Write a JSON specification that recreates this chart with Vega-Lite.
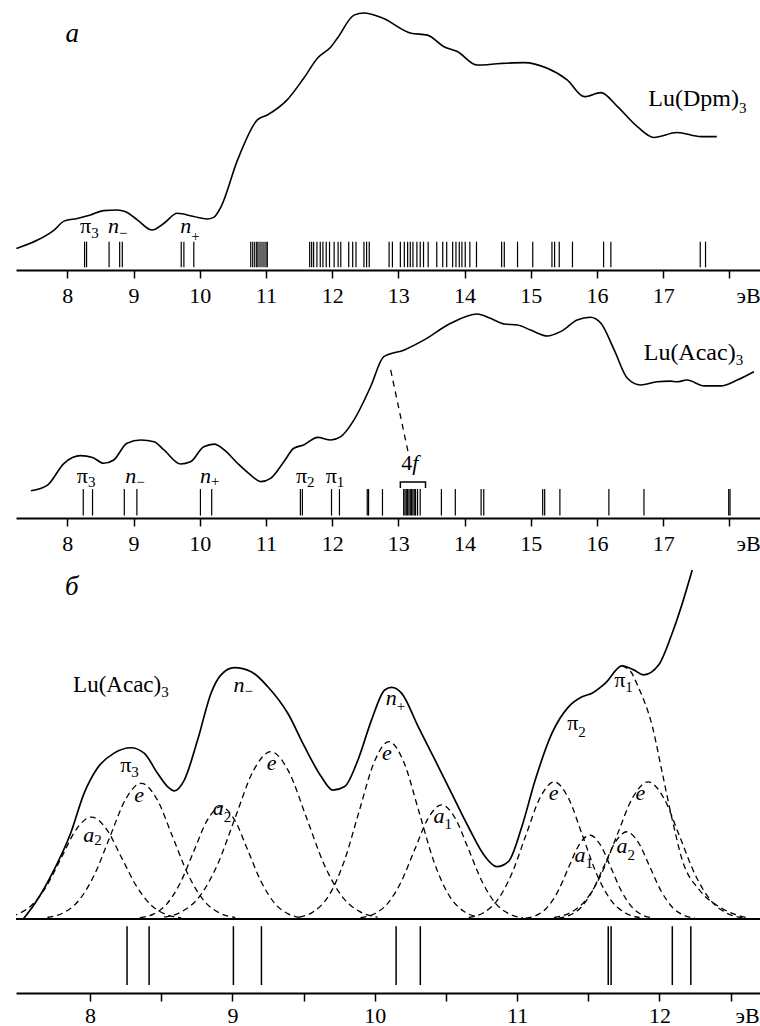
{
"$schema": "https://vega.github.io/schema/vega-lite/v6.json",
"background": "white",
"padding": {"left": 12, "top": 0, "right": 0, "bottom": 0},
"bounds": "flush",
"spacing": 36,
"datasets": {
"a_curve": [{"x":7.23,"y":8.0},{"x":7.55,"y":11.1},{"x":7.8,"y":14.8},{"x":7.95,"y":18.1},{"x":8.15,"y":19.1},{"x":8.35,"y":20.4},{"x":8.55,"y":22.0},{"x":8.75,"y":22.2},{"x":8.88,"y":21.6},{"x":9.06,"y":18.5},{"x":9.28,"y":14.8},{"x":9.46,"y":17.3},{"x":9.66,"y":21.0},{"x":9.91,"y":19.8},{"x":10.11,"y":18.9},{"x":10.21,"y":19.5},{"x":10.32,"y":23.4},{"x":10.57,"y":40.7},{"x":10.87,"y":55.6},{"x":11.02,"y":57.4},{"x":11.32,"y":63.0},{"x":11.57,"y":71.0},{"x":11.78,"y":78.5},{"x":11.98,"y":82.6},{"x":12.08,"y":85.9},{"x":12.33,"y":94.4},{"x":12.48,"y":95.2},{"x":12.76,"y":93.3},{"x":13.19,"y":87.7},{"x":13.44,"y":87.0},{"x":13.69,"y":82.7},{"x":13.89,"y":80.9},{"x":14.19,"y":75.9},{"x":14.55,"y":76.5},{"x":14.9,"y":76.8},{"x":15.25,"y":74.7},{"x":15.55,"y":70.4},{"x":15.81,"y":64.2},{"x":16.06,"y":65.7},{"x":16.31,"y":60.5},{"x":16.61,"y":53.1},{"x":16.86,"y":49.1},{"x":17.21,"y":50.9},{"x":17.57,"y":49.4},{"x":17.81,"y":49.4}],
"a_sticks": [{"x":8.26},{"x":8.29},{"x":8.63},{"x":8.79},{"x":8.83},{"x":9.72},{"x":9.76},{"x":9.91},{"x":10.77},{"x":10.8},{"x":10.83},{"x":10.86},{"x":10.88},{"x":10.91},{"x":10.94},{"x":10.97},{"x":11.0},{"x":11.02},{"x":11.66},{"x":11.69},{"x":11.72},{"x":11.77},{"x":11.82},{"x":11.86},{"x":11.91},{"x":11.96},{"x":12.03},{"x":12.09},{"x":12.13},{"x":12.25},{"x":12.31},{"x":12.36},{"x":12.48},{"x":12.52},{"x":12.56},{"x":12.86},{"x":12.91},{"x":13.03},{"x":13.09},{"x":13.14},{"x":13.18},{"x":13.22},{"x":13.28},{"x":13.33},{"x":13.38},{"x":13.45},{"x":13.58},{"x":13.67},{"x":13.73},{"x":13.82},{"x":13.87},{"x":13.92},{"x":13.96},{"x":14.01},{"x":14.08},{"x":14.18},{"x":14.56},{"x":14.6},{"x":14.8},{"x":15.03},{"x":15.32},{"x":15.36},{"x":15.43},{"x":15.63},{"x":16.1},{"x":16.21},{"x":17.56},{"x":17.64}],
"a_up": [{"x":8.36,"y":13.7,"t":"π"}],
"a_lu": [{"x":18.145,"y":60.7,"t":"Lu(Dpm)"}],
"a_it": [{"x":8.78,"y":13.7,"t":"n"},{"x":9.87,"y":13.7,"t":"n"}],
"a_sub": [{"x":8.36,"y":12.0,"t":"3"},{"x":8.78,"y":12.0,"t":"−"},{"x":9.87,"y":10.7,"t":"+"},{"x":18.145,"y":58.1,"t":"3"}],
"a_title": [{"x":8.175,"y":84.4,"t":"a"}],
"b_curve": [{"x":7.45,"y":12.5},{"x":7.7,"y":15.1},{"x":7.95,"y":25.1},{"x":8.2,"y":28.6},{"x":8.38,"y":27.8},{"x":8.55,"y":25.1},{"x":8.7,"y":26.6},{"x":8.9,"y":34.3},{"x":9.11,"y":35.8},{"x":9.31,"y":35.0},{"x":9.46,"y":31.2},{"x":9.71,"y":24.8},{"x":9.86,"y":25.8},{"x":10.06,"y":32.7},{"x":10.22,"y":33.9},{"x":10.37,"y":31.2},{"x":10.57,"y":25.1},{"x":10.77,"y":19.7},{"x":10.92,"y":16.7},{"x":11.07,"y":18.2},{"x":11.27,"y":25.8},{"x":11.42,"y":32.0},{"x":11.57,"y":33.5},{"x":11.78,"y":37.0},{"x":11.98,"y":35.8},{"x":12.13,"y":37.3},{"x":12.33,"y":45.0},{"x":12.58,"y":60.2},{"x":12.78,"y":74.0},{"x":13.09,"y":77.1},{"x":13.39,"y":81.7},{"x":13.79,"y":89.3},{"x":14.19,"y":93.6},{"x":14.39,"y":91.6},{"x":14.6,"y":89.0},{"x":14.8,"y":88.5},{"x":15.0,"y":86.2},{"x":15.25,"y":83.5},{"x":15.45,"y":85.5},{"x":15.7,"y":90.8},{"x":15.9,"y":92.1},{"x":16.06,"y":89.3},{"x":16.26,"y":77.1},{"x":16.46,"y":64.1},{"x":16.66,"y":61.0},{"x":16.91,"y":62.5},{"x":17.11,"y":62.8},{"x":17.21,"y":62.5},{"x":17.36,"y":63.3},{"x":17.62,"y":60.6},{"x":17.87,"y":60.6},{"x":18.12,"y":63.3},{"x":18.37,"y":67.1}],
"b_sticks": [{"x":8.24},{"x":8.38},{"x":8.86},{"x":9.05},{"x":10.01},{"x":10.18},{"x":11.52},{"x":11.55},{"x":11.99},{"x":12.11},{"x":12.53},{"x":12.55},{"x":12.76},{"x":13.08},{"x":13.1},{"x":13.12},{"x":13.14},{"x":13.16},{"x":13.18},{"x":13.2},{"x":13.22},{"x":13.24},{"x":13.26},{"x":13.29},{"x":13.33},{"x":13.65},{"x":13.86},{"x":14.25},{"x":14.29},{"x":15.18},{"x":15.21},{"x":15.44},{"x":16.18},{"x":16.71},{"x":17.99},{"x":18.01}],
"b_up": [{"x":8.31,"y":16.1,"t":"π"},{"x":11.62,"y":16.1,"t":"π"},{"x":12.07,"y":16.1,"t":"π"},{"x":13.21,"y":22.0,"t":"4"}],
"b_lu": [{"x":18.095,"y":72.5,"t":"Lu(Acac)"}],
"b_it": [{"x":9.04,"y":16.1,"t":"n"},{"x":10.17,"y":16.1,"t":"n"}],
"b_f": [{"x":13.21,"y":22.0,"t":"f"}],
"b_sub": [{"x":8.31,"y":14.2,"t":"3"},{"x":9.04,"y":14.0,"t":"−"},{"x":10.17,"y":14.9,"t":"+"},{"x":11.62,"y":14.2,"t":"2"},{"x":12.07,"y":14.2,"t":"1"},{"x":18.095,"y":70.2,"t":"3"}],
"b_dash": [{"x":12.884,"y":67.9,"x2":13.16,"y2":28.4}],
"b_bracket": [{"x":13.03,"y":13.8,"o":1},{"x":13.03,"y":16.5,"o":2},{"x":13.41,"y":16.5,"o":3},{"x":13.41,"y":13.8,"o":4}],
"c_base": [{"x":7.48},{"x":12.72}],
"c_curve": [{"x":7.535,"y":0.2},{"x":7.629,"y":5.3},{"x":7.746,"y":13.6},{"x":7.864,"y":23.9},{"x":7.958,"y":35.0},{"x":8.051,"y":42.0},{"x":8.169,"y":46.2},{"x":8.287,"y":47.7},{"x":8.38,"y":46.2},{"x":8.474,"y":40.6},{"x":8.544,"y":36.9},{"x":8.592,"y":35.7},{"x":8.662,"y":38.7},{"x":8.756,"y":49.9},{"x":8.85,"y":62.9},{"x":8.92,"y":68.0},{"x":9.014,"y":70.0},{"x":9.132,"y":68.9},{"x":9.249,"y":64.7},{"x":9.389,"y":57.3},{"x":9.507,"y":48.0},{"x":9.625,"y":39.6},{"x":9.706,"y":35.9},{"x":9.789,"y":36.9},{"x":9.882,"y":44.3},{"x":9.977,"y":55.4},{"x":10.07,"y":63.8},{"x":10.118,"y":64.5},{"x":10.188,"y":62.9},{"x":10.305,"y":53.6},{"x":10.423,"y":44.3},{"x":10.54,"y":35.0},{"x":10.657,"y":25.7},{"x":10.775,"y":17.4},{"x":10.857,"y":14.6},{"x":10.939,"y":16.0},{"x":11.033,"y":25.7},{"x":11.127,"y":38.7},{"x":11.244,"y":51.7},{"x":11.361,"y":59.1},{"x":11.456,"y":61.9},{"x":11.526,"y":62.9},{"x":11.62,"y":65.7},{"x":11.737,"y":70.5},{"x":11.819,"y":69.4},{"x":11.889,"y":68.0},{"x":11.995,"y":70.8},{"x":12.089,"y":79.6},{"x":12.16,"y":87.9},{"x":12.23,"y":97.2}],
"c_sum": [{"x":11.737,"y":70.5},{"x":11.8,"y":68.8},{"x":11.85,"y":64.7},{"x":11.95,"y":53.6},{"x":12.02,"y":40.6},{"x":12.09,"y":27.6},{"x":12.16,"y":16.4},{"x":12.28,"y":8.1},{"x":12.42,"y":3.4},{"x":12.62,"y":0.3}],
"c_comp": [
{"c":1,"x":7.38,"y":0.32},{"c":1,"x":7.485,"y":1.25},{"c":1,"x":7.59,"y":3.84},{"c":1,"x":7.695,"y":9.22},{"c":1,"x":7.8,"y":17.22},{"c":1,"x":7.905,"y":25.06},{"c":1,"x":8.01,"y":28.4},{"c":1,"x":8.115,"y":25.06},{"c":1,"x":8.22,"y":17.22},{"c":1,"x":8.325,"y":9.22},{"c":1,"x":8.43,"y":3.84},{"c":1,"x":8.535,"y":1.25},{"c":1,"x":8.64,"y":0.32},
{"c":2,"x":7.7,"y":0.42},{"c":2,"x":7.81,"y":1.66},{"c":2,"x":7.92,"y":5.11},{"c":2,"x":8.03,"y":12.27},{"c":2,"x":8.14,"y":22.93},{"c":2,"x":8.25,"y":33.36},{"c":2,"x":8.36,"y":37.8},{"c":2,"x":8.47,"y":33.36},{"c":2,"x":8.58,"y":22.93},{"c":2,"x":8.69,"y":12.27},{"c":2,"x":8.8,"y":5.11},{"c":2,"x":8.91,"y":1.66},{"c":2,"x":9.02,"y":0.42},
{"c":3,"x":8.35,"y":0.35},{"c":3,"x":8.445,"y":1.37},{"c":3,"x":8.54,"y":4.23},{"c":3,"x":8.635,"y":10.16},{"c":3,"x":8.73,"y":18.98},{"c":3,"x":8.825,"y":27.62},{"c":3,"x":8.92,"y":31.3},{"c":3,"x":9.015,"y":27.62},{"c":3,"x":9.11,"y":18.98},{"c":3,"x":9.205,"y":10.16},{"c":3,"x":9.3,"y":4.23},{"c":3,"x":9.395,"y":1.37},{"c":3,"x":9.49,"y":0.35},
{"c":4,"x":8.52,"y":0.52},{"c":4,"x":8.645,"y":2.05},{"c":4,"x":8.77,"y":6.31},{"c":4,"x":8.895,"y":15.13},{"c":4,"x":9.02,"y":28.26},{"c":4,"x":9.145,"y":41.12},{"c":4,"x":9.27,"y":46.6},{"c":4,"x":9.395,"y":41.12},{"c":4,"x":9.52,"y":28.26},{"c":4,"x":9.645,"y":15.13},{"c":4,"x":9.77,"y":6.31},{"c":4,"x":9.895,"y":2.05},{"c":4,"x":10.02,"y":0.52},
{"c":5,"x":9.47,"y":0.55},{"c":5,"x":9.575,"y":2.17},{"c":5,"x":9.68,"y":6.68},{"c":5,"x":9.785,"y":16.04},{"c":5,"x":9.89,"y":29.96},{"c":5,"x":9.995,"y":43.6},{"c":5,"x":10.1,"y":49.4},{"c":5,"x":10.205,"y":43.6},{"c":5,"x":10.31,"y":29.96},{"c":5,"x":10.415,"y":16.04},{"c":5,"x":10.52,"y":6.68},{"c":5,"x":10.625,"y":2.17},{"c":5,"x":10.73,"y":0.55},
{"c":6,"x":9.9,"y":0.35},{"c":6,"x":9.995,"y":1.4},{"c":6,"x":10.09,"y":4.3},{"c":6,"x":10.185,"y":10.33},{"c":6,"x":10.28,"y":19.29},{"c":6,"x":10.375,"y":28.06},{"c":6,"x":10.47,"y":31.8},{"c":6,"x":10.565,"y":28.06},{"c":6,"x":10.66,"y":19.29},{"c":6,"x":10.755,"y":10.33},{"c":6,"x":10.85,"y":4.3},{"c":6,"x":10.945,"y":1.4},{"c":6,"x":11.04,"y":0.35},
{"c":7,"x":10.66,"y":0.42},{"c":7,"x":10.76,"y":1.68},{"c":7,"x":10.86,"y":5.17},{"c":7,"x":10.96,"y":12.4},{"c":7,"x":11.06,"y":23.17},{"c":7,"x":11.16,"y":33.71},{"c":7,"x":11.26,"y":38.2},{"c":7,"x":11.36,"y":33.71},{"c":7,"x":11.46,"y":23.17},{"c":7,"x":11.56,"y":12.4},{"c":7,"x":11.66,"y":5.17},{"c":7,"x":11.76,"y":1.68},{"c":7,"x":11.86,"y":0.42},
{"c":8,"x":11.06,"y":0.26},{"c":8,"x":11.135,"y":1.03},{"c":8,"x":11.21,"y":3.17},{"c":8,"x":11.285,"y":7.6},{"c":8,"x":11.36,"y":14.19},{"c":8,"x":11.435,"y":20.65},{"c":8,"x":11.51,"y":23.4},{"c":8,"x":11.585,"y":20.65},{"c":8,"x":11.66,"y":14.19},{"c":8,"x":11.735,"y":7.6},{"c":8,"x":11.81,"y":3.17},{"c":8,"x":11.885,"y":1.03},{"c":8,"x":11.96,"y":0.26},
{"c":9,"x":11.29,"y":0.27},{"c":9,"x":11.37,"y":1.07},{"c":9,"x":11.45,"y":3.29},{"c":9,"x":11.53,"y":7.89},{"c":9,"x":11.61,"y":14.74},{"c":9,"x":11.69,"y":21.44},{"c":9,"x":11.77,"y":24.3},{"c":9,"x":11.85,"y":21.44},{"c":9,"x":11.93,"y":14.74},{"c":9,"x":12.01,"y":7.89},{"c":9,"x":12.09,"y":3.29},{"c":9,"x":12.17,"y":1.07},{"c":9,"x":12.25,"y":0.27},
{"c":10,"x":11.26,"y":0.42},{"c":10,"x":11.37,"y":1.68},{"c":10,"x":11.48,"y":5.17},{"c":10,"x":11.59,"y":12.4},{"c":10,"x":11.7,"y":23.17},{"c":10,"x":11.81,"y":33.71},{"c":10,"x":11.92,"y":38.2},{"c":10,"x":12.03,"y":33.71},{"c":10,"x":12.14,"y":23.17},{"c":10,"x":12.25,"y":12.4},{"c":10,"x":12.36,"y":5.17},{"c":10,"x":12.47,"y":1.68},{"c":10,"x":12.58,"y":0.42}
],
"c_sticks": [{"x":8.26},{"x":8.415},{"x":9.007},{"x":9.204},{"x":10.15},{"x":10.32},{"x":11.64},{"x":11.66},{"x":12.09},{"x":12.22}],
"c_up": [{"x":8.29,"y":40.9,"t":"π"},{"x":11.43,"y":52.6,"t":"π"},{"x":11.76,"y":64.6,"t":"π"}],
"c_lu": [{"x":8.5,"y":63.2,"t":"Lu(Acac)"}],
"c_it": [{"x":9.085,"y":63.2,"t":"n"},{"x":8.38,"y":32.6,"t":"e"},{"x":8.03,"y":21.4,"t":"a"},{"x":9.31,"y":41.5,"t":"e"},{"x":8.94,"y":29.0,"t":"a"},{"x":10.155,"y":59.6,"t":"n"},{"x":10.12,"y":44.3,"t":"e"},{"x":10.49,"y":26.7,"t":"a"},{"x":11.29,"y":33.1,"t":"e"},{"x":11.48,"y":15.9,"t":"a"},{"x":11.775,"y":18.4,"t":"a"},{"x":11.9,"y":33.1,"t":"e"}],
"c_sub": [{"x":8.29,"y":39.6,"t":"3"},{"x":9.085,"y":62.0,"t":"−"},{"x":8.03,"y":20.6,"t":"2"},{"x":8.94,"y":27.0,"t":"2"},{"x":10.155,"y":57.8,"t":"+"},{"x":10.49,"y":25.1,"t":"1"},{"x":11.43,"y":50.7,"t":"2"},{"x":11.48,"y":14.2,"t":"1"},{"x":11.775,"y":16.4,"t":"2"},{"x":11.76,"y":63.2,"t":"1"},{"x":8.5,"y":61.8,"t":"3"}],
"c_title": [{"x":7.92,"y":90.3,"t":"б"}]
},
"vconcat": [
{
"width": 746, "height": 270,
"encoding": {"x": {"field": "x", "type": "quantitative", "scale": {"domain": [7.224, 18.493], "nice": false, "zero": false}, "axis": {"values": [8,9,10,11,12,13,14,15,16,17,18], "labelExpr": "datum.value == 18 ? '' : format(datum.value, 'd')", "title": "эВ", "titleX": 732}}},
"layer": [
{"data": {"name": "a_curve"}, "mark": {"type": "line", "strokeWidth": 1.6, "interpolate": "monotone"},
 "encoding": {"y": {"field": "y", "type": "quantitative", "scale": {"domain": [0, 100], "nice": false, "zero": false}, "axis": null}}},
{"data": {"name": "a_sticks"}, "mark": {"type": "rule", "strokeWidth": 1.2},
 "encoding": {"y": {"datum": 1.0, "scale": {"domain": [0, 100], "nice": false, "zero": false}, "axis": null}, "y2": {"datum": 10.5}}},
{"data": {"name": "a_up"}, "mark": {"type": "text", "align": "right", "fontSize": 22},
 "encoding": {"y": {"field": "y", "type": "quantitative", "scale": {"domain": [0, 100], "nice": false, "zero": false}, "axis": null}, "text": {"field": "t"}}},
{"data": {"name": "a_lu"}, "mark": {"type": "text", "align": "right", "fontSize": 24},
 "encoding": {"y": {"field": "y", "type": "quantitative", "scale": {"domain": [0, 100], "nice": false, "zero": false}, "axis": null}, "text": {"field": "t"}}},
{"data": {"name": "a_it"}, "mark": {"type": "text", "align": "right", "fontSize": 22, "fontStyle": "italic"},
 "encoding": {"y": {"field": "y", "type": "quantitative", "scale": {"domain": [0, 100], "nice": false, "zero": false}, "axis": null}, "text": {"field": "t"}}},
{"data": {"name": "a_sub"}, "mark": {"type": "text", "align": "left", "fontSize": 15},
 "encoding": {"y": {"field": "y", "type": "quantitative", "scale": {"domain": [0, 100], "nice": false, "zero": false}, "axis": null}, "text": {"field": "t"}}},
{"data": {"name": "a_title"}, "mark": {"type": "text", "align": "right", "fontSize": 27, "fontStyle": "italic"},
 "encoding": {"y": {"field": "y", "type": "quantitative", "scale": {"domain": [0, 100], "nice": false, "zero": false}, "axis": null}, "text": {"field": "t"}}}
]
},
{
"width": 746, "height": 212,
"encoding": {"x": {"field": "x", "type": "quantitative", "scale": {"domain": [7.224, 18.493], "nice": false, "zero": false}, "axis": {"values": [8,9,10,11,12,13,14,15,16,17,18], "labelExpr": "datum.value == 18 ? '' : format(datum.value, 'd')", "title": "эВ", "titleX": 732}}},
"layer": [
{"data": {"name": "b_curve"}, "mark": {"type": "line", "strokeWidth": 1.6, "interpolate": "monotone"},
 "encoding": {"y": {"field": "y", "type": "quantitative", "scale": {"domain": [0, 97.25], "nice": false, "zero": false}, "axis": null}}},
{"data": {"name": "b_sticks"}, "mark": {"type": "rule", "strokeWidth": 1.2},
 "encoding": {"y": {"datum": 1.1, "scale": {"domain": [0, 97.25], "nice": false, "zero": false}, "axis": null}, "y2": {"datum": 13.3}}},
{"data": {"name": "b_dash"}, "mark": {"type": "rule", "strokeWidth": 1.3, "strokeDash": [6, 5]},
 "encoding": {"y": {"field": "y", "type": "quantitative", "scale": {"domain": [0, 97.25], "nice": false, "zero": false}, "axis": null}, "x2": {"field": "x2"}, "y2": {"field": "y2"}}},
{"data": {"name": "b_bracket"}, "mark": {"type": "line", "strokeWidth": 1.5},
 "encoding": {"y": {"field": "y", "type": "quantitative", "scale": {"domain": [0, 97.25], "nice": false, "zero": false}, "axis": null}, "order": {"field": "o"}}},
{"data": {"name": "b_up"}, "mark": {"type": "text", "align": "right", "fontSize": 22},
 "encoding": {"y": {"field": "y", "type": "quantitative", "scale": {"domain": [0, 97.25], "nice": false, "zero": false}, "axis": null}, "text": {"field": "t"}}},
{"data": {"name": "b_lu"}, "mark": {"type": "text", "align": "right", "fontSize": 24},
 "encoding": {"y": {"field": "y", "type": "quantitative", "scale": {"domain": [0, 97.25], "nice": false, "zero": false}, "axis": null}, "text": {"field": "t"}}},
{"data": {"name": "b_it"}, "mark": {"type": "text", "align": "right", "fontSize": 22, "fontStyle": "italic"},
 "encoding": {"y": {"field": "y", "type": "quantitative", "scale": {"domain": [0, 97.25], "nice": false, "zero": false}, "axis": null}, "text": {"field": "t"}}},
{"data": {"name": "b_f"}, "mark": {"type": "text", "align": "left", "fontSize": 22, "fontStyle": "italic"},
 "encoding": {"y": {"field": "y", "type": "quantitative", "scale": {"domain": [0, 97.25], "nice": false, "zero": false}, "axis": null}, "text": {"field": "t"}}},
{"data": {"name": "b_sub"}, "mark": {"type": "text", "align": "left", "fontSize": 15},
 "encoding": {"y": {"field": "y", "type": "quantitative", "scale": {"domain": [0, 97.25], "nice": false, "zero": false}, "axis": null}, "text": {"field": "t"}}}
]
},
{
"width": 746, "height": 439,
"encoding": {"x": {"field": "x", "type": "quantitative", "scale": {"domain": [7.48, 12.72], "nice": false, "zero": false}, "axis": {"values": [8,8.5,9,9.5,10,10.5,11,11.5,12,12.5], "labelExpr": "datum.value % 1 == 0 ? format(datum.value, 'd') : ''", "title": "эВ", "titleX": 731, "labelPadding": 4, "titleY": 12}}},
"layer": [
{"data": {"name": "c_base"}, "mark": {"type": "line", "strokeWidth": 2},
 "encoding": {"y": {"datum": 0, "scale": {"domain": [-20.61, 101.67], "nice": false, "zero": false}, "axis": null}}},
{"data": {"name": "c_comp"}, "mark": {"type": "line", "strokeWidth": 1.3, "strokeDash": [6, 4], "interpolate": "monotone", "clip": true},
 "encoding": {"y": {"field": "y", "type": "quantitative", "scale": {"domain": [-20.61, 101.67], "nice": false, "zero": false}, "axis": null}, "detail": {"field": "c"}}},
{"data": {"name": "c_sum"}, "mark": {"type": "line", "strokeWidth": 1.3, "strokeDash": [6, 4], "interpolate": "monotone", "clip": true},
 "encoding": {"y": {"field": "y", "type": "quantitative", "scale": {"domain": [-20.61, 101.67], "nice": false, "zero": false}, "axis": null}}},
{"data": {"name": "c_curve"}, "mark": {"type": "line", "strokeWidth": 1.7, "interpolate": "monotone"},
 "encoding": {"y": {"field": "y", "type": "quantitative", "scale": {"domain": [-20.61, 101.67], "nice": false, "zero": false}, "axis": null}}},
{"data": {"name": "c_sticks"}, "mark": {"type": "rule", "strokeWidth": 1.5},
 "encoding": {"y": {"datum": -2.0, "scale": {"domain": [-20.61, 101.67], "nice": false, "zero": false}, "axis": null}, "y2": {"datum": -18.4}}},
{"data": {"name": "c_up"}, "mark": {"type": "text", "align": "right", "fontSize": 22},
 "encoding": {"y": {"field": "y", "type": "quantitative", "scale": {"domain": [-20.61, 101.67], "nice": false, "zero": false}, "axis": null}, "text": {"field": "t"}}},
{"data": {"name": "c_lu"}, "mark": {"type": "text", "align": "right", "fontSize": 23},
 "encoding": {"y": {"field": "y", "type": "quantitative", "scale": {"domain": [-20.61, 101.67], "nice": false, "zero": false}, "axis": null}, "text": {"field": "t"}}},
{"data": {"name": "c_it"}, "mark": {"type": "text", "align": "right", "fontSize": 22, "fontStyle": "italic"},
 "encoding": {"y": {"field": "y", "type": "quantitative", "scale": {"domain": [-20.61, 101.67], "nice": false, "zero": false}, "axis": null}, "text": {"field": "t"}}},
{"data": {"name": "c_sub"}, "mark": {"type": "text", "align": "left", "fontSize": 15},
 "encoding": {"y": {"field": "y", "type": "quantitative", "scale": {"domain": [-20.61, 101.67], "nice": false, "zero": false}, "axis": null}, "text": {"field": "t"}}},
{"data": {"name": "c_title"}, "mark": {"type": "text", "align": "right", "fontSize": 27, "fontStyle": "italic"},
 "encoding": {"y": {"field": "y", "type": "quantitative", "scale": {"domain": [-20.61, 101.67], "nice": false, "zero": false}, "axis": null}, "text": {"field": "t"}}}
]
}
],
"config": {
"view": {"stroke": null},
"axis": {"domainColor": "black", "domainWidth": 2, "tickColor": "black", "tickWidth": 1.5, "tickSize": 8, "labelFont": "Liberation Serif", "labelFontSize": 22, "labelColor": "black", "labelPadding": 7, "grid": false, "titleFont": "Liberation Serif", "titleFontSize": 22, "titleFontWeight": "normal", "titleColor": "black", "titleBaseline": "top", "titleAlign": "center", "titleY": 15, "labelFlush": false, "labelOverlap": false, "labelBound": false},
"text": {"font": "Liberation Serif", "color": "black", "baseline": "alphabetic"},
"line": {"color": "black"},
"rule": {"color": "black"}
}
}
